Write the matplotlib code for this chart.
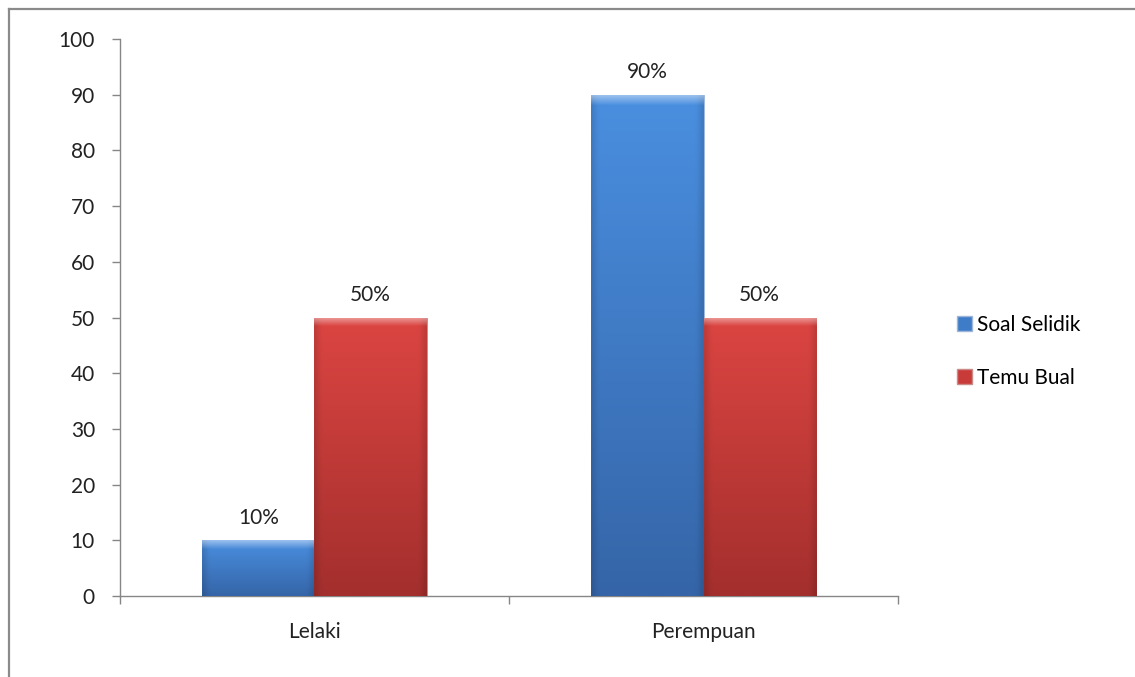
import matplotlib.pyplot as plt
import matplotlib.colors as mcolors
from matplotlib.lines import Line2D
from matplotlib.patches import Patch
import numpy as np

plt.rcParams['font.family'] = ['Lato', 'DejaVu Sans']

categories = ["Lelaki", "Perempuan"]
series_names = ["Soal Selidik", "Temu Bual"]
soal_selidik = [10, 90]
temu_bual = [50, 50]
yticks = [0, 10, 20, 30, 40, 50, 60, 70, 80, 90, 100]

# top colour, bottom colour per series
shades = [("#4a8fe0", "#3565a8"), ("#dc4542", "#a32f2d")]
FS = 15


def bevel_bar(ax, patch, top, bottom, px_h):
    x0, y0 = patch.get_x(), patch.get_y()
    w, h = patch.get_width(), patch.get_height()
    n = 200
    t = np.linspace(1, 0, n)[:, None]
    c_top = np.array(mcolors.to_rgb(top))
    c_bot = np.array(mcolors.to_rgb(bottom))
    img = c_bot + (c_top - c_bot) * t[..., None]
    img = np.repeat(img, 40, axis=1)
    # darker sides
    xs = np.linspace(0, 1, 40)
    side = 1 - 0.12 * (np.clip(1 - xs / 0.06, 0, 1) + np.clip((xs - 0.94) / 0.06, 0, 1))
    img = img * side[None, :, None]
    # light strip on top (bevel)
    bev = max(1, int(round(n * 9 / px_h)))
    for i in range(min(bev, n)):
        k = 0.45 * (1 - i / bev)
        img[i] = img[i] + (1 - img[i]) * k
    img = np.clip(img, 0, 1)
    im = ax.imshow(img, extent=(x0, x0 + w, y0, y0 + h), aspect='auto',
                   interpolation='bilinear', zorder=3)
    im.set_clip_path(patch)


fig = plt.figure(figsize=(11.35, 6.77), dpi=100)
ax = fig.add_axes([0.1057, 0.1196, 0.6855, 0.8228])

x = np.arange(len(categories))
w = 0.288
b1 = ax.bar(x - w / 2, soal_selidik, w, color=shades[0][0], edgecolor="#9fb6d8",
            linewidth=0.6, zorder=2)
b2 = ax.bar(x + w / 2, temu_bual, w, color=shades[1][0], edgecolor="#c98a88",
            linewidth=0.6, zorder=2)

ax.set_xlim(-0.5, 1.5)
ax.set_ylim(0, 100)
fig.canvas.draw()
px_per_unit = ax.get_window_extent().height / 100.0
for bars, (top, bot) in zip([b1, b2], shades):
    for p in bars:
        bevel_bar(ax, p, top, bot, p.get_height() * px_per_unit)

for bars, vals in zip([b1, b2], [soal_selidik, temu_bual]):
    for p, v in zip(bars, vals):
        ax.annotate(f"{v}%", (p.get_x() + p.get_width() / 2, v),
                    xytext=(0, 9), textcoords="offset points",
                    ha="center", va="bottom", fontsize=FS, color="#222222")

ax.set_yticks(yticks)
ax.set_xticks(x)
ax.set_xticklabels(categories)
ax.set_xticks([-0.5, 0.5, 1.5], minor=True)
ax.tick_params(axis="x", which="major", length=0, pad=19, labelsize=FS, colors="#222222")
ax.tick_params(axis="x", which="minor", length=6, width=1, color="#868686")
ax.tick_params(axis="y", length=6, width=1, color="#868686", pad=12,
               labelsize=FS, labelcolor="#222222")
for s in ["top", "right"]:
    ax.spines[s].set_visible(False)
for s in ["left", "bottom"]:
    ax.spines[s].set_color("#868686")
    ax.spines[s].set_linewidth(1)

handles = [Patch(facecolor="#3f7cc8", edgecolor="#9fb6d8", label=series_names[0]),
           Patch(facecolor="#c93b39", edgecolor="#c98a88", label=series_names[1])]
fig.legend(handles=handles, loc="center left", bbox_to_anchor=(0.836, 0.481),
           frameon=False, fontsize=FS, handlelength=0.7, handleheight=0.7,
           handletextpad=0.25, labelspacing=1.6, borderaxespad=0)

# chart area border (left and top only visible)
fig.add_artist(Line2D([9 / 1135, 9 / 1135], [0, 1 - 9 / 677], color="#8a8a8a", lw=1.6))
fig.add_artist(Line2D([9 / 1135, 1], [1 - 9 / 677, 1 - 9 / 677], color="#8a8a8a", lw=1.6))

fig.savefig("out.png", dpi=100)
